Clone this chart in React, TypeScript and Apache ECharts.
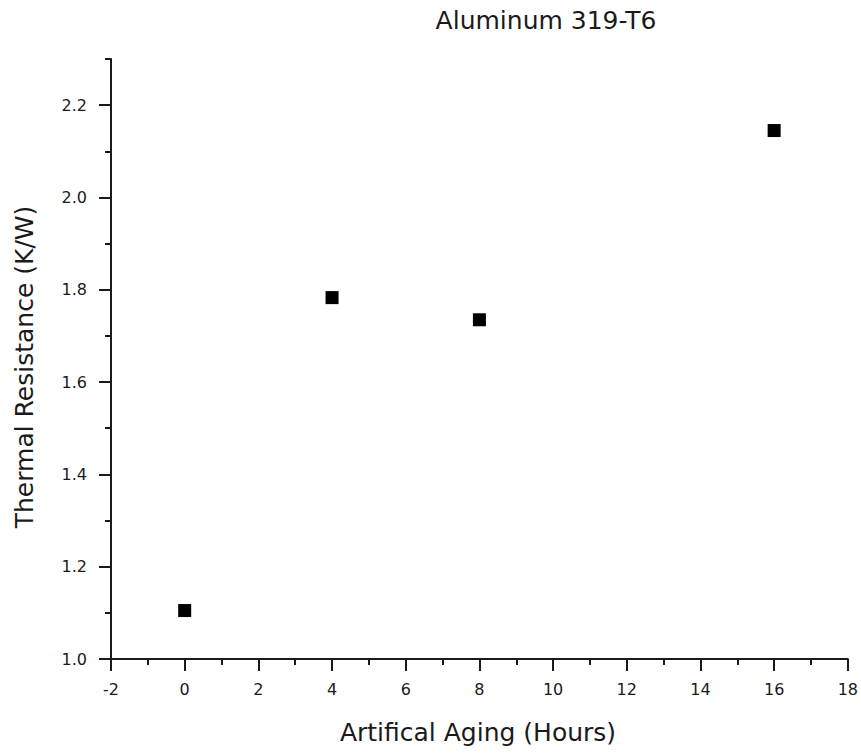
import React, { useEffect, useRef } from "react";
import * as echarts from "echarts";

const hours = [0, 4, 8, 16];
const resistance = [1.105, 1.783, 1.735, 2.145];
const yMajorTicks = [1.0, 1.2, 1.4, 1.6, 1.8, 2.0, 2.2];
const titleText = "Aluminum 319-T6";
const xName = "Artifical Aging (Hours)";
const yName = "Thermal Resistance (K/W)";

const FONT = "DejaVu Sans";
const INK = "#1a1a1a";

export default function App() {
  const ref = useRef<HTMLDivElement>(null);
  useEffect(() => {
    if (!ref.current) return;
    const chart = echarts.init(ref.current, undefined, { renderer: "svg" });
    const axisLine = { show: true, onZero: false, lineStyle: { color: INK, width: 2 } };
    chart.setOption({
      animation: false,
      backgroundColor: "#ffffff",
      grid: { left: 111, right: 13, top: 59, bottom: 96, containLabel: false },
      xAxis: {
        type: "value",
        min: -2,
        max: 18,
        interval: 2,
        axisLine,
        axisTick: { show: true, inside: false, length: 12, lineStyle: { color: INK, width: 2 } },
        minorTick: { show: true, splitNumber: 2, length: 6, lineStyle: { color: INK, width: 2 } },
        splitLine: { show: false },
        minorSplitLine: { show: false },
        axisLabel: { margin: 22, fontFamily: FONT, fontSize: 16, color: INK },
      },
      yAxis: [
        {
          type: "value",
          min: 1.0,
          max: 2.3,
          interval: 0.1,
          position: "left",
          axisLine,
          axisTick: { show: true, inside: false, length: 6, lineStyle: { color: INK, width: 2 } },
          splitLine: { show: false },
          axisLabel: { show: false },
        },
        {
          type: "value",
          min: 1.0,
          max: 2.3,
          interval: 0.2,
          position: "left",
          axisLine: { show: false, onZero: false },
          axisTick: {
            show: true,
            inside: false,
            length: 12,
            customValues: yMajorTicks,
            lineStyle: { color: INK, width: 2 },
          },
          splitLine: { show: false },
          axisLabel: {
            show: true,
            margin: 24,
            customValues: yMajorTicks,
            fontFamily: FONT,
            fontSize: 16,
            color: INK,
            formatter: (v: number) => v.toFixed(1),
          },
        },
      ],
      series: [
        {
          type: "scatter",
          yAxisIndex: 0,
          symbol: "rect",
          symbolSize: 13,
          itemStyle: { color: "#000000", opacity: 1 },
          data: hours.map((h, i) => [h, resistance[i]]),
        },
      ],
      graphic: [
        {
          type: "text",
          x: 546,
          y: 20,
          style: {
            text: titleText,
            font: `25px "${FONT}"`,
            fill: INK,
            textAlign: "center",
            textVerticalAlign: "middle",
          },
        },
        {
          type: "text",
          x: 478,
          y: 732,
          style: {
            text: xName,
            font: `25px "${FONT}"`,
            fill: INK,
            textAlign: "center",
            textVerticalAlign: "middle",
          },
        },
        {
          type: "text",
          x: 24,
          y: 367,
          rotation: Math.PI / 2,
          style: {
            text: yName,
            font: `25px "${FONT}"`,
            fill: INK,
            textAlign: "center",
            textVerticalAlign: "middle",
          },
        },
      ],
    });
    return () => chart.dispose();
  }, []);
  return (
    <div
      ref={ref}
      style={{ position: "fixed", left: 0, top: 0, width: 861, height: 755, background: "#fff" }}
    />
  );
}
